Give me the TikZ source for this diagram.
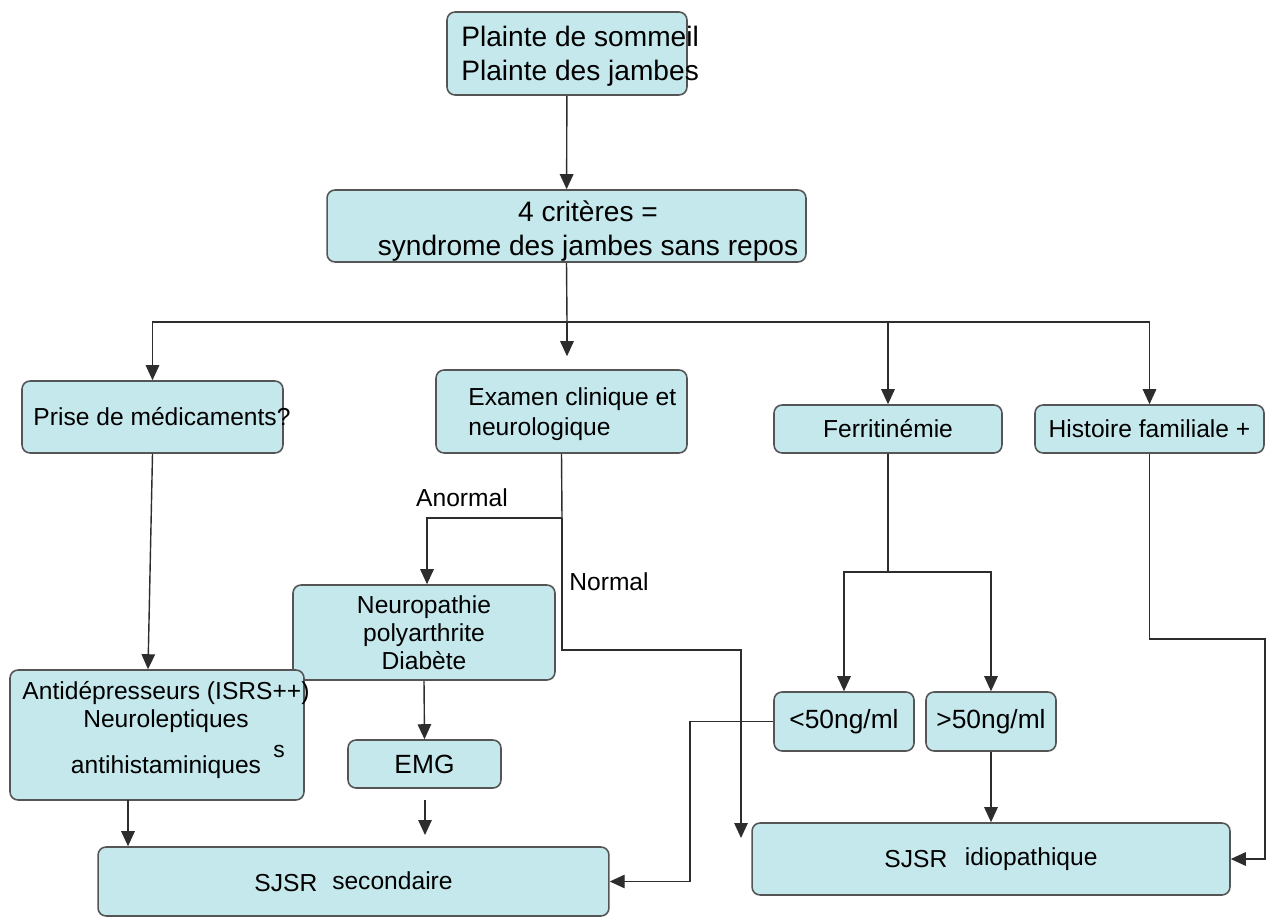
\documentclass[tikz,border=0pt]{standalone}
\usepackage{fontspec}
\setmainfont{Liberation Sans}
\usetikzlibrary{arrows.meta,positioning}

\definecolor{cyanpale}{RGB}{197,232,236}
\definecolor{bordgris}{RGB}{85,85,85}
\definecolor{traitgris}{RGB}{45,45,45}
\newcommand{\grandtexte}{\fontsize{16}{19.3}\selectfont}
\newcommand{\moyentexte}{\fontsize{14}{16.5}\selectfont}

\tikzset{
  boite/.style={draw=bordgris, line width=0.9pt, fill=cyanpale, rounded corners=0.16cm,
    inner sep=0pt, font=\moyentexte, align=center},
  texte/.style={inner sep=0pt, font=\moyentexte},
  trait/.style={draw=traitgris, line width=0.8pt},
  fleche/.style={trait, -{Triangle[length=0.3cm,width=0.27cm]}},
}

\begin{document}
\begin{tikzpicture}[x=0.02cm, y=-0.02cm]
        \useasboundingbox (0,0) rectangle (1277,918);

        \node[boite, minimum width=4.8cm, minimum height=1.66cm] (plainte) at (567,53.5) {};
        \node[texte, anchor=west, align=left, font=\grandtexte] (tplainte) at (461,56) {Plainte de sommeil\\Plainte des jambes};

        \node[boite, minimum width=9.58cm, minimum height=1.44cm] (criteres) at (566.5,226) {};
        \node[texte, align=center, font=\grandtexte] (tcriteres) at (588,231) {4 critères =\\syndrome des jambes sans repos};

        \node[boite, minimum width=5.22cm, minimum height=1.44cm] (medic) at (152.5,417) {};
        \node[texte] (tmedic) at (162,417) {Prise de médicaments?};

        \node[boite, minimum width=5.02cm, minimum height=1.66cm] (examen) at (561.5,411.5) {};
        \node[texte, anchor=west, align=left, font=\fontsize{14}{17}\selectfont] (texamen) at (468,414) {Examen clinique et\\neurologique};

        \node[boite, minimum width=4.56cm, minimum height=0.96cm] (ferritine) at (888,429) {Ferritinémie};
        \node[boite, minimum width=4.58cm, minimum height=0.96cm] (histoire) at (1149.5,429) {Histoire familiale +};

        \node[boite, minimum width=5.24cm, minimum height=1.9cm, font=\fontsize{14}{16}\selectfont] (neuropathie) at (424,632.5) {Neuropathie\\polyarthrite\\Diabète};

        \node[boite, minimum width=5.88cm, minimum height=2.6cm] (antidep) at (157,735) {};
        \node[texte, align=center, font=\fontsize{14}{15.9}\selectfont] (tantidep) at (166,730) {Antidépresseurs (ISRS++)\\Neuroleptiques\\[10pt]antihistaminiques};
        \node[texte, font=\fontsize{13}{15}\selectfont] (tresidu) at (279,751) {s};

        \node[boite, minimum width=3.06cm, minimum height=0.96cm, font=\fontsize{15}{17}\selectfont] (emg) at (424.5,764) {EMG};

        \node[boite, minimum width=2.8cm, minimum height=1.18cm, font=\fontsize{15}{17}\selectfont] (inf) at (844,721.5) {<50ng/ml};
        \node[boite, minimum width=2.6cm, minimum height=1.18cm, font=\fontsize{15}{17}\selectfont] (sup) at (991,721.5) {>50ng/ml};

        \node[boite, minimum width=10.22cm, minimum height=1.38cm] (secondaire) at (353.5,881.5) {SJSR\hspace{0.3cm}\raisebox{0.1em}{secondaire}};
        \node[boite, minimum width=9.56cm, minimum height=1.44cm] (idio) at (991,859) {SJSR\hspace{0.35cm}\raisebox{0.1em}{idiopathique}};

        \node[texte] (anormal) at (462,498) {Anormal};
        \node[texte] (normal) at (609,582) {Normal};

        \coordinate (jonction) at (567,322);
        \coordinate (bifurque) at (562,518);
        \coordinate (coude) at (562,650);
        \coordinate (normalfin) at (741,838);
        \coordinate (fourche) at (888,572);
        \coordinate (coudeinf) at (690,721.5);
        \coordinate (coudehist) at (1265,639);
        \coordinate (d1bas) at (128,800);
        \coordinate (emgbas) at (425,800);
        \coordinate (emgfleche) at (425,835);

        \draw[fleche] (plainte) -- (criteres);
        \draw[trait] (criteres.south) -- (jonction);
        \draw[fleche] (jonction) -| (medic.north);
        \draw[fleche, shorten >=0.26cm] (jonction) -- (jonction |- examen.north);
        \draw[fleche] (jonction) -| (ferritine.north);
        \draw[fleche] (jonction) -| (histoire.north);

        \draw[fleche] (medic.south) -- ([xshift=-0.18cm]antidep.north);
        \draw[fleche] (d1bas) -- (d1bas |- secondaire.north);

        \draw[trait] (examen.south) -- (bifurque);
        \draw[fleche] (bifurque) -| ([xshift=0.06cm]neuropathie.north);
        \draw[fleche] (bifurque) -- (coude) -| (normalfin);
        \draw[fleche] (neuropathie.south) -- (emg.north);
        \draw[fleche] (emgbas) -- (emgfleche);

        \draw[trait] (ferritine.south) -- (fourche);
        \draw[fleche] (fourche) -| (inf.north);
        \draw[fleche] (fourche) -| (sup.north);
        \draw[fleche] (inf.west) -- (coudeinf) |- (secondaire.east);
        \draw[fleche] (sup.south) -- (idio.north);
        \draw[fleche] (histoire.south) |- (coudehist) |- (idio.east);
\end{tikzpicture}
\end{document}
